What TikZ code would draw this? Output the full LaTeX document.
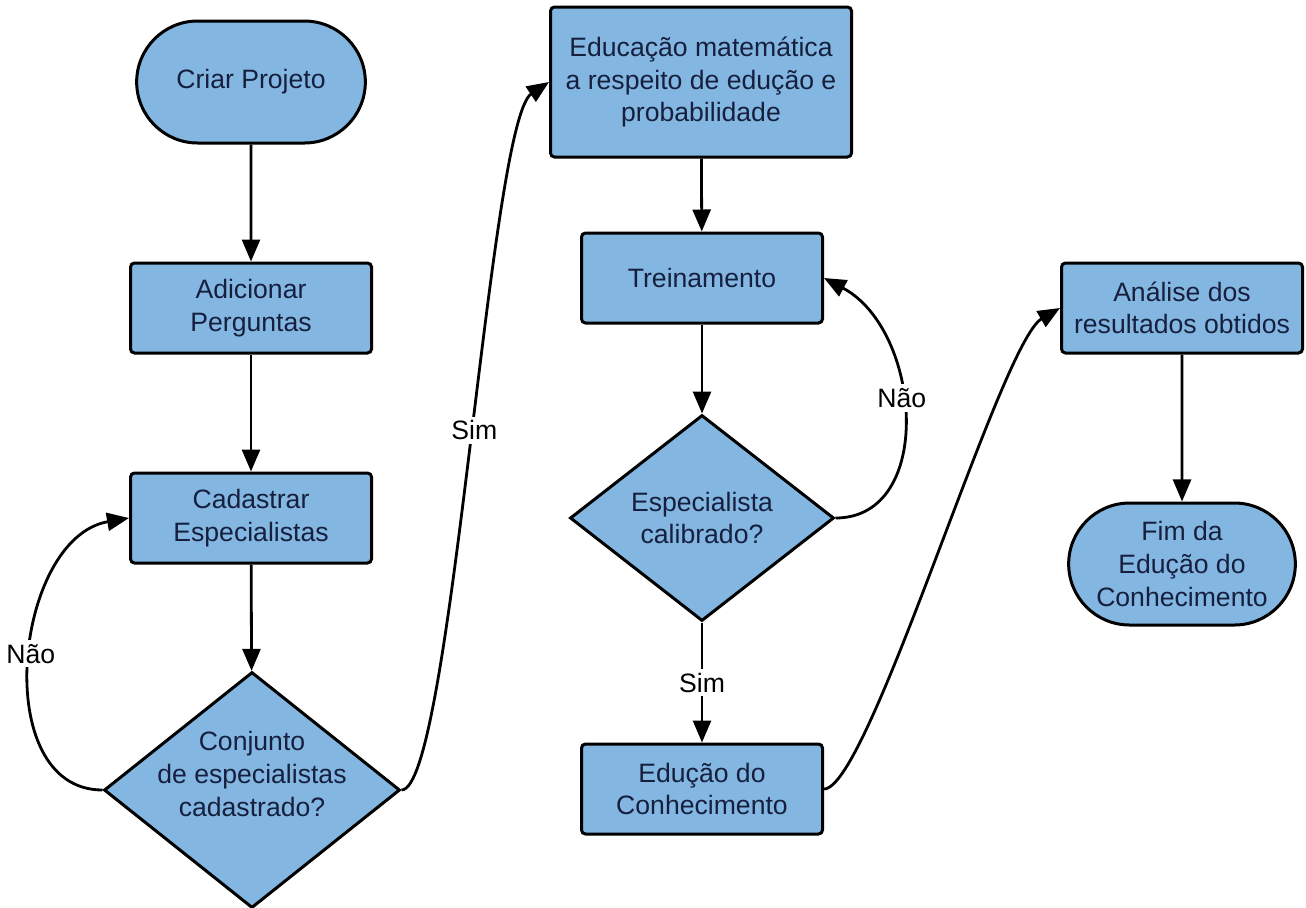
\documentclass[tikz,border=0pt]{standalone}
\usepackage{fontspec}
\setmainfont{Liberation Sans}
\usetikzlibrary{arrows.meta,positioning,shapes.geometric,shapes.misc}

\definecolor{boxblue}{RGB}{131,183,226}
\definecolor{boxtext}{RGB}{22,32,62}

\tikzset{
  base/.style={draw=black, line width=1.5pt, fill=boxblue, text=boxtext,
    align=center, font=\fontsize{13.3}{16.3}\selectfont},
  terminal/.style={base, rounded rectangle, minimum width=121pt, minimum height=61pt},
  process/.style={base, rectangle, rounded corners=2pt, minimum width=120.5pt, minimum height=45pt},
  decision/.style={base, diamond, inner sep=0pt, aspect=1.25},
  dlabel/.style={text=boxtext, align=center, inner sep=0pt, yshift=8pt,
    font=\fontsize{13.3}{16.3}\selectfont},
  flow/.style={line width=1.4pt, -{Triangle[length=11pt,width=9pt]}},
  cond/.style={fill=white, inner sep=2pt, text=black, font=\fontsize{13.3}{16.3}\selectfont}
}

\begin{document}
\begin{tikzpicture}[x=0.5pt,y=0.5pt]
\useasboundingbox (0,0) rectangle (1306,-907);
% first column
\node[terminal] (criar) at (251,-82) {Criar Projeto};
\node[process] (adic) at (251,-308) {Adicionar\\Perguntas};
\node[process] (cad) at (251,-518) {Cadastrar\\Especialistas};
\node[decision, minimum width=148pt, minimum height=118pt,
  label={[dlabel]center:{Conjunto\\de especialistas\\cadastrado?}}] (conj) at (252,-790) {};
% second column
\node[process, minimum width=150.5pt, minimum height=75pt] (edu) at (701,-82)
  {Educação matemática\\a respeito de edução e\\probabilidade};
\node[process] (trein) at (702,-278) {Treinamento};
\node[decision, minimum width=132pt, minimum height=103pt, aspect=1.28] (calib) at (702,-518)
  {Especialista\\calibrado?};
\node[process] (educ) at (702,-789) {Edução do\\Conhecimento};
% third column
\node[process] (anal) at (1182,-308) {Análise dos\\resultados obtidos};
\node[terminal, minimum width=120pt] (fim) at (1182,-564) {Fim da\\Edução do\\Conhecimento};

\draw[flow] (criar) -- (adic);
\draw[flow] (adic) -- (cad);
\draw[flow] (cad) -- (conj);
\draw[flow] (conj.west) .. controls +(-114,0) and +(-115,-20) .. node[cond, pos=0.52] {Não} (cad.west);
\draw[flow] (conj.east) .. controls +(50,0) and +(-60,-40) .. node[cond, pos=0.52] {Sim} (edu.west);
\draw[flow] (edu) -- (trein);
\draw[flow] (trein) -- (calib);
\draw[flow] (calib.east) .. controls +(100,0) and +(98,-52) .. node[cond, pos=0.56] {Não} (trein.east);
\draw[flow] (calib) -- node[cond] {Sim} (educ);
\draw[flow] (educ.east) .. controls +(45,0) and +(-60,-35) .. (anal.west);
\draw[flow] (anal) -- (fim);
\end{tikzpicture}
\end{document}
